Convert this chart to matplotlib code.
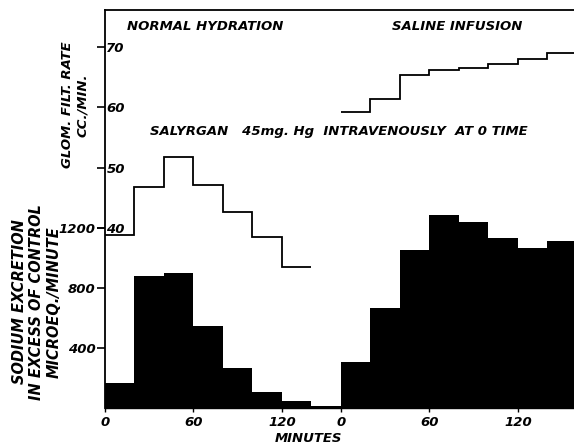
import matplotlib.pyplot as plt
import numpy as np

# Datos
minutos_izq = [0, 20, 40, 60, 80, 100, 120, 140, 160]
sodio_izq = [165, 880, 900, 547, 267, 107, 45, 12]
gfr_izq = [38.9, 46.8, 51.7, 47.1, 42.6, 38.5, 33.6]

minutos_der = [0, 20, 40, 60, 80, 100, 120, 140, 160]
sodio_der = [307, 667, 1053, 1287, 1240, 1133, 1067, 1113]
gfr_der = [59.2, 61.4, 65.3, 66.2, 66.4, 67.2, 68.0, 69.0]

ticks_min = [0, 60, 120]
ticks_sodio = [400, 800, 1200]
ticks_gfr = [40, 50, 60, 70]

desplazamiento = 160  # el panel derecho empieza despues del izquierdo

fuente = dict(family='DejaVu Sans', weight='bold', style='italic', size=9.5)

fig = plt.figure(figsize=(5.74, 4.44), dpi=100)
ax = fig.add_axes([105/574, 1 - 408/444, 1 - 105/574, 398/444])

# barras de sodio
x_izq = np.array(minutos_izq[:-1])
x_der = np.array(minutos_der[:-1]) + desplazamiento
ax.bar(x_izq, sodio_izq, width=20, align='edge', color='black', linewidth=0)
ax.bar(x_der, sodio_der, width=20, align='edge', color='black', linewidth=0)

ax.set_xlim(0, 318)
ax.set_ylim(0, 2653)

# eje de filtracion glomerular
ax2 = ax.twinx()
ax2.set_ylim(10.22, 76.06)
ax2.stairs(gfr_izq, minutos_izq[:len(gfr_izq) + 1], color='black', lw=1.3, baseline=None)
ax2.stairs(gfr_der, np.array(minutos_der) + desplazamiento, color='black', lw=1.3, baseline=None)

for s in ['right', 'bottom', 'left', 'top']:
    ax2.spines[s].set_visible(False)
ax.spines['right'].set_visible(False)
ax.spines['left'].set_linewidth(1.3)
ax.spines['top'].set_linewidth(1.3)
ax.spines['bottom'].set_linewidth(1.0)

pos_x = [t for t in ticks_min] + [t + desplazamiento for t in ticks_min]
ax.set_xticks(pos_x)
ax.set_xticklabels([str(t) for t in ticks_min] * 2, fontdict=fuente)
ax.tick_params(axis='x', direction='out', length=3, width=1, pad=3)

ax.set_yticks(ticks_sodio)
ax.set_yticklabels([str(t) for t in ticks_sodio], fontdict=fuente)
ax.tick_params(axis='y', direction='out', length=6, width=1.2, pad=1)

ax2.yaxis.set_ticks_position('left')
ax2.set_yticks(ticks_gfr)
ax2.set_yticklabels([str(t) for t in ticks_gfr], fontdict=fuente)
ax2.tick_params(axis='y', direction='out', length=6, width=1.2, pad=-7)
for lab in ax2.get_yticklabels():
    lab.set_horizontalalignment('left')

# textos
fig.text(127/574, 1 - 26/444, 'NORMAL HYDRATION', ha='left', va='center', **fuente)
fig.text(392/574, 1 - 27/444, 'SALINE INFUSION', ha='left', va='center', **fuente)
fig.text(150/574, 1 - 131/444, 'SALYRGAN   45mg. Hg  INTRAVENOUSLY  AT 0 TIME',
         ha='left', va='center', **fuente)
fig.text(308/574, 1 - 438/444, 'MINUTES', ha='center', va='center', **fuente)
fig.text(75/574, 1 - 105/444, 'GLOM. FILT. RATE\nCC./MIN.', rotation=90,
         ha='center', va='center', multialignment='center', linespacing=1.25, **fuente)
etiqueta = dict(fuente, size=10.5)
fig.text(37/574, 1 - 302/444, 'SODIUM EXCRETION\nIN EXCESS OF CONTROL\nMICROEQ./MINUTE',
         rotation=90, ha='center', va='center', multialignment='center',
         linespacing=1.2, **etiqueta)

fig.savefig('out.png', dpi=100)
